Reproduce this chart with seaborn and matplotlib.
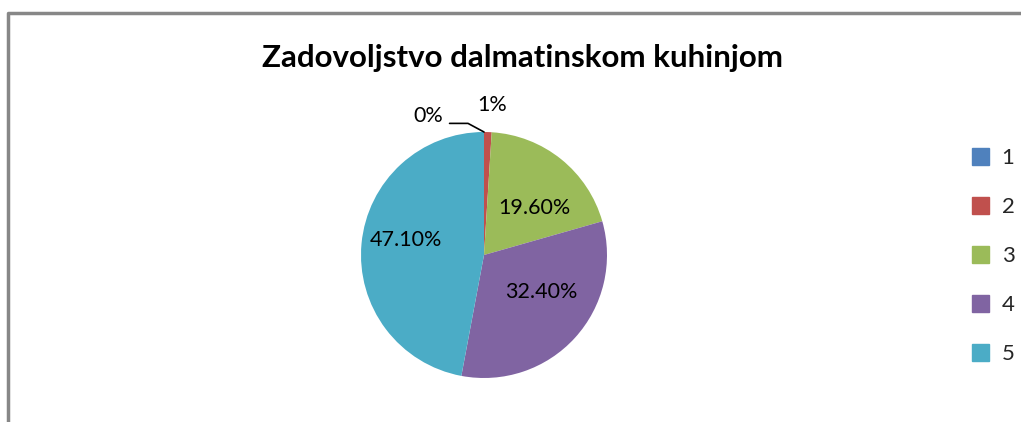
import matplotlib
matplotlib.use("Agg")
import matplotlib.pyplot as plt
import seaborn as sns
import numpy as np

# Survey data: satisfaction with Dalmatian cuisine (grades 1-5)
categories = ["1", "2", "3", "4", "5"]
values = [0.0, 1.0, 19.6, 32.4, 47.1]
pct_labels = ["0%", "1%", "19.60%", "32.40%", "47.10%"]
colors = ["#4F81BD", "#C0504D", "#9BBB59", "#8064A2", "#4BACC6"]

sns.set_style("white")
plt.rcParams["font.family"] = ["Lato", "DejaVu Sans"]

fig = plt.figure(figsize=(10.21, 4.22), dpi=100)

# outer chart frame (gray line on top and left, like the Excel screenshot)
frame = fig.add_axes([0, 0, 1, 1])
frame.set_xlim(0, 1021)
frame.set_ylim(422, 0)
frame.axis("off")
frame.plot([8, 8, 1021], [422, 13, 13], color="#878787", lw=2.5, solid_capstyle="butt")

fig.text(0.512, 0.862, "Zadovoljstvo dalmatinskom kuhinjom", ha="center", va="center",
         fontsize=22.5, fontweight="bold", color="black")

# pie: center ~ (484, 255) px, radius ~123 px
cx, cy, r = 484, 255, 123
ax = fig.add_axes([(cx - r) / 1021, 1 - (cy + r) / 422, 2 * r / 1021, 2 * r / 422])
wedges, _ = ax.pie(values, colors=colors, startangle=90, counterclock=False,
                   wedgeprops=dict(linewidth=0))
ax.set_xlim(-1, 1)
ax.set_ylim(-1, 1)
ax.set_aspect("auto")

fs = 15.5
# inside labels for big slices: (distance, angle shift from slice middle)
inside_pos = {2: (0.56, -8.3), 3: (0.55, 9.5), 4: (0.646, -5.4)}
for i, w in enumerate(wedges):
    if i in inside_pos:
        d, shift = inside_pos[i]
        ang = np.deg2rad((w.theta1 + w.theta2) / 2 + shift)
        ax.text(d * np.cos(ang), d * np.sin(ang), pct_labels[i], ha="center", va="center",
                fontsize=fs, color="black")

# small slices: labels outside, 0% with leader line
ang1 = np.deg2rad((wedges[1].theta1 + wedges[1].theta2) / 2)
ax.text(1.15 * np.cos(ang1) + 0.03, 1.22, pct_labels[1], ha="center", va="center",
        fontsize=fs, color="black")
ang0 = np.deg2rad(wedges[0].theta1)
ax.plot([np.cos(ang0), -0.13, -0.28], [np.sin(ang0), 1.07, 1.07], color="black", lw=1.2,
        clip_on=False)
ax.text(-0.45, 1.13, pct_labels[0], ha="center", va="center", fontsize=fs, color="black")

# legend
handles = [plt.Rectangle((0, 0), 1, 1, color=c) for c in colors]
fig.legend(handles, categories, loc="center left", bbox_to_anchor=(0.943, 0.393),
           frameon=False, fontsize=16, handlelength=0.8, handleheight=0.8,
           labelspacing=1.3, handletextpad=0.55, borderaxespad=0)

fig.savefig("out.png", dpi=100)
